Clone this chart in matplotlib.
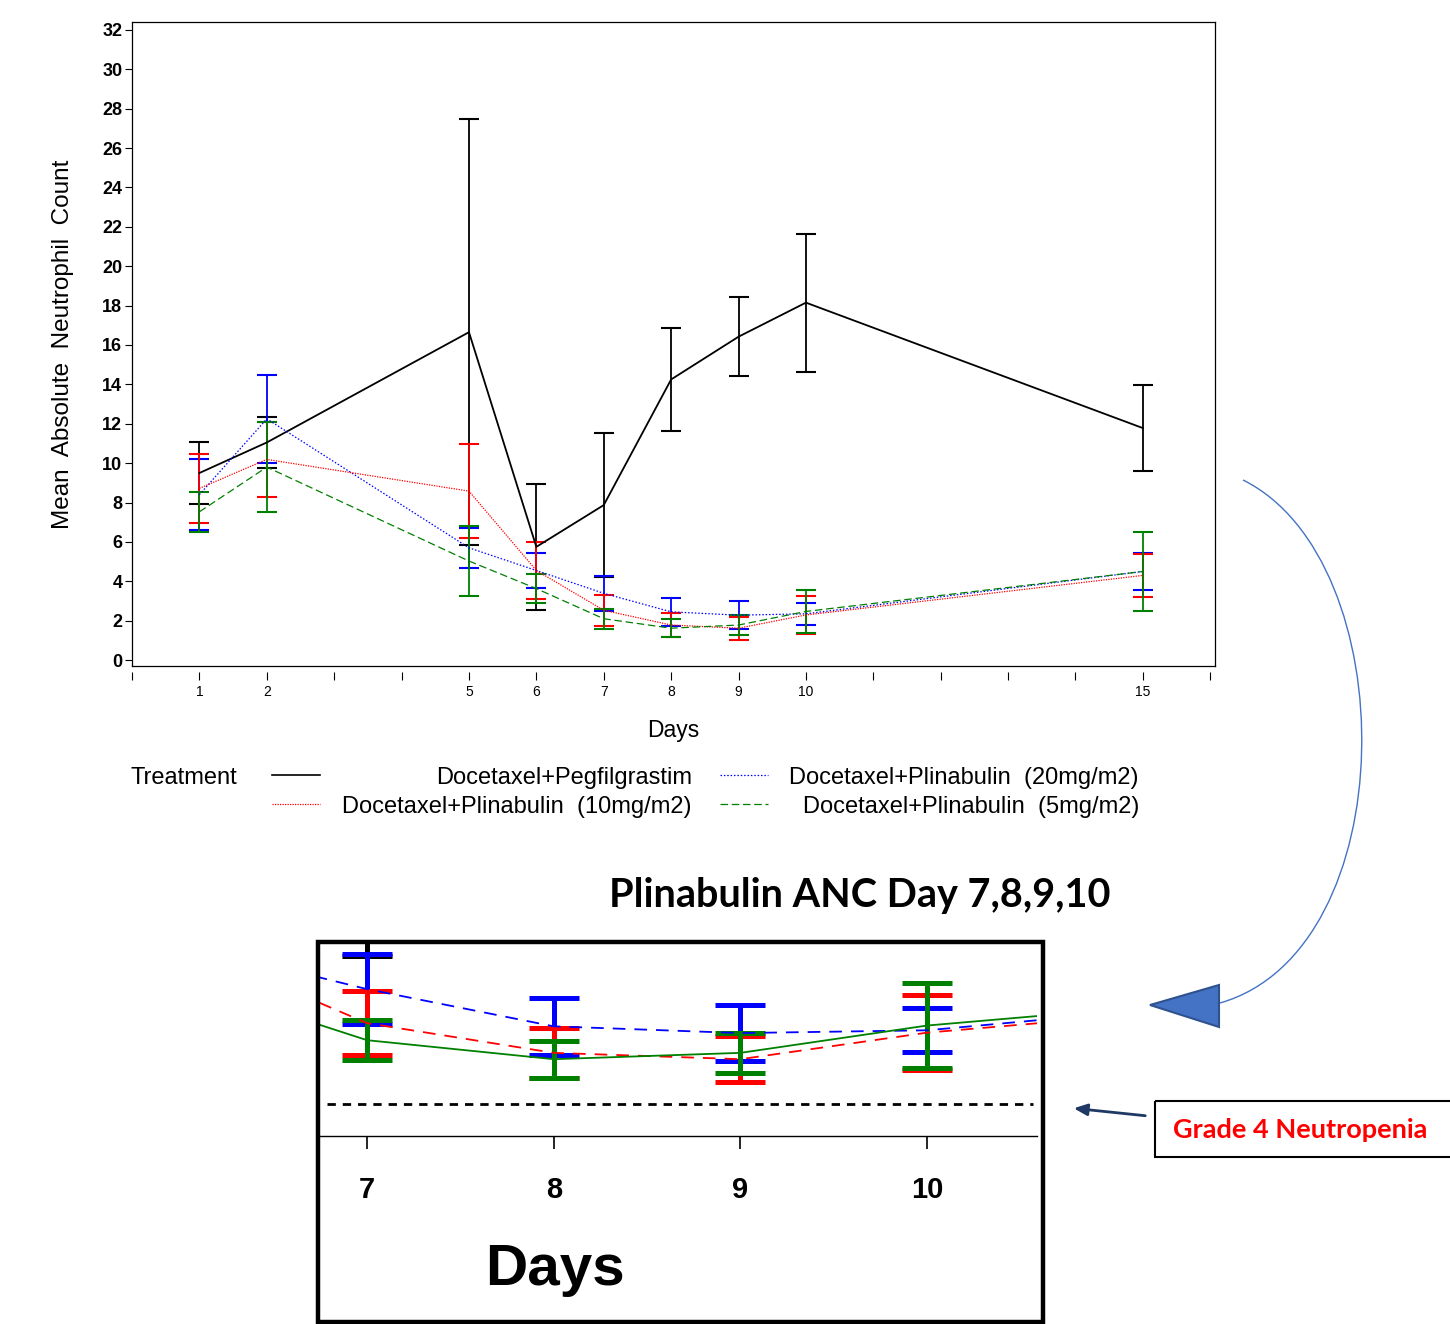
import matplotlib
matplotlib.use("Agg")
import matplotlib.pyplot as plt
from matplotlib import font_manager
from matplotlib.lines import Line2D
from matplotlib.patches import Rectangle, Polygon, PathPatch
from matplotlib.path import Path

W, H = 1450, 1324

# data
days = [1, 2, 5, 6, 7, 8, 9, 10, 15]
tick_days = list(range(0, 17))

treatments = [
    "Docetaxel + Pegfilgrastim",
    "Docetaxel + Plinabulin  (20mg/m2)",
    "Docetaxel + Plinabulin  (10mg/m2)",
    "Docetaxel + Plinabulin  (5mg/m2)",
]
peg_mean = [9.5, 11.05, 16.65, 5.75, 7.87, 14.25, 16.42, 18.15, 11.78]
peg_err = [1.55, 1.3, 10.8, 3.2, 3.64, 2.6, 2.0, 3.5, 2.19]
pli20_mean = [8.4, 12.25, 5.7, 4.55, 3.39, 2.45, 2.28, 2.35, 4.5]
pli20_err = [1.8, 2.25, 1.02, 0.89, 0.88, 0.72, 0.71, 0.56, 0.95]
pli10_mean = [8.72, 10.19, 8.58, 4.55, 2.53, 1.78, 1.62, 2.29, 4.3]
pli10_err = [1.75, 1.9, 2.4, 1.45, 0.8, 0.63, 0.58, 0.94, 1.08]
pli5_mean = [7.53, 9.8, 5.03, 3.63, 2.1, 1.62, 1.78, 2.47, 4.5]
pli5_err = [1.03, 2.3, 1.77, 0.72, 0.5, 0.47, 0.51, 1.08, 2.0]
grade4_threshold = 0.5

colors = ["black", "#0000FF", "#FF0000", "#008000"]
main_styles = ["-", (0, (1.2, 1.5)), (0, (1, 1)), (0, (6, 3))]
inset_styles = ["-", (0, (7, 5)), (0, (7, 5)), "-"]

names = {f.name for f in font_manager.fontManager.ttflist}
sas_font = "Liberation Sans Narrow" if "Liberation Sans Narrow" in names else "Liberation Sans"
plt.rcParams["font.family"] = [sas_font, "DejaVu Sans"]


def fx(px):
    return px / W


def fy(py):
    return 1 - py / H


fig = plt.figure(figsize=(W / 100, H / 100), dpi=100)

series = [(peg_mean, peg_err), (pli20_mean, pli20_err),
          (pli10_mean, pli10_err), (pli5_mean, pli5_err)]

# ---- main chart
ax = fig.add_axes([fx(132), fy(666), fx(1215) - fx(132), fy(22) - fy(666)])
for (m, e), c, ls in zip(series, colors, main_styles):
    lw = 1.3 if c == "black" else 0.9
    ax.errorbar(days, m, yerr=e, color=c, linestyle=ls, linewidth=lw,
                elinewidth=1.3, capsize=7.2, capthick=1.5)

ax.set_xlim(0, 16.07)
ax.set_ylim(-0.3, 32.4)
ax.set_yticks(range(0, 33, 2))
ax.set_xticks(tick_days)
ax.set_xticklabels([str(d) if d in days else "" for d in tick_days])
for lab in ax.get_yticklabels():
    lab.set_fontweight("bold")
    lab.set_fontsize(13)
for lab in ax.get_xticklabels():
    lab.set_fontweight("bold")
    lab.set_fontsize(9.5)
ax.tick_params(axis="y", direction="out", length=5, width=0.8, pad=2)
ax.tick_params(axis="x", direction="out", length=6, width=0.8, pad=4)
ax.spines["bottom"].set_position(("outward", 4))
ax.spines["bottom"].set_color("none")
ax.plot([0, 1], [0, 0], transform=ax.transAxes, color="black", lw=0.9, clip_on=False)
for s in ["left", "right", "top"]:
    ax.spines[s].set_linewidth(0.9)
ax.set_xlabel("Days", fontsize=16.5, labelpad=14)
ax.set_ylabel("Mean  Absolute  Neutrophil  Count", fontsize=17.5, labelpad=20)

# ---- inset zoom of days 7-10
ins = fig.add_axes([fx(320), fy(1136), fx(1037) - fx(320), fy(942) - fy(1136)])
for (m, e), c, ls in zip(series, colors, inset_styles):
    ins.errorbar(days, m, yerr=e, color=c, linestyle=ls, linewidth=1.3,
                 elinewidth=3.6, capsize=18, capthick=3.6)
ins.axhline(grade4_threshold, xmin=0.01, xmax=0.995, color="black",
            linestyle=(0, (3, 2.5)), linewidth=2)
ins.set_xlim(6.748, 10.589)
ins.set_ylim(-0.32, 4.58)
ins.set_yticks([])
ins.set_xticks([7, 8, 9, 10])
ins.set_xticklabels(["7", "8", "9", "10"], fontsize=21, fontweight="bold")
ins.tick_params(axis="x", direction="out", length=9, width=1.2, pad=20)
for s in ["left", "right", "top"]:
    ins.spines[s].set_visible(False)
ins.spines["bottom"].set_linewidth(1.0)
ins.set_xlabel("Days", fontsize=42, fontweight="bold")
ins.xaxis.set_label_coords((fx(555) - fx(320)) / (fx(1037) - fx(320)),
                           (fy(1270) - fy(1136)) / (fy(942) - fy(1136)))
ins.xaxis.label.set_va("center")

# ---- overlay for legend and annotations (pixel coordinates)
ov = fig.add_axes([0, 0, 1, 1])
ov.set_xlim(0, W)
ov.set_ylim(H, 0)
ov.axis("off")

leg_font = dict(fontsize=17, va="center")
ov.text(131, 778, "Treatment", ha="left", **leg_font)
slots = [(272, 692, 778), (720, 1139, 778), (272, 692, 807), (720, 1139, 807)]
for (x0, xr, yy), name, c, ls in zip(slots, treatments, colors, main_styles):
    ov.add_line(Line2D([x0, x0 + 48], [yy - 3, yy - 3], color=c, linestyle=ls,
                       linewidth=1.2 if c == "black" else 0.9))
    ov.text(xr, yy, name.replace(" + ", "+"), ha="right", **leg_font)

ov.text(860, 896, "Plinabulin ANC Day 7,8,9,10", ha="center", va="center",
        fontsize=28.5, fontweight="bold", family=["Lato", "DejaVu Sans"])

# inset frame
ov.add_patch(Rectangle((318, 942), 725, 380, fill=False, edgecolor="black", linewidth=3.2))

# curved blue arrow
verts = [(1243, 480), (1405, 560), (1405, 950), (1220, 1003)]
ov.add_patch(PathPatch(Path(verts, [Path.MOVETO, Path.CURVE4, Path.CURVE4, Path.CURVE4]),
                       fill=False, edgecolor="#4472C4", linewidth=1.0))
ov.add_patch(Polygon([(1150, 1005), (1219, 985), (1219, 1027)], closed=True,
                     facecolor="#4472C4", edgecolor="#2F528F", linewidth=1.5))

# grade 4 callout
ov.annotate("", xy=(1071, 1108), xytext=(1148, 1116),
            arrowprops=dict(arrowstyle="-|>,head_length=0.8,head_width=0.35",
                            color="#1F3864", lw=2))
ov.add_patch(Rectangle((1155, 1101), 310, 56, fill=False, edgecolor="black",
                       linewidth=1.5, clip_on=False))
ov.text(1173, 1130, "Grade 4 Neutropenia", ha="left", va="center", color="#FF0000",
        fontsize=19.5, fontweight="bold", family=["Lato", "DejaVu Sans"])

fig.savefig("out.png", dpi=100)
plt.close(fig)
